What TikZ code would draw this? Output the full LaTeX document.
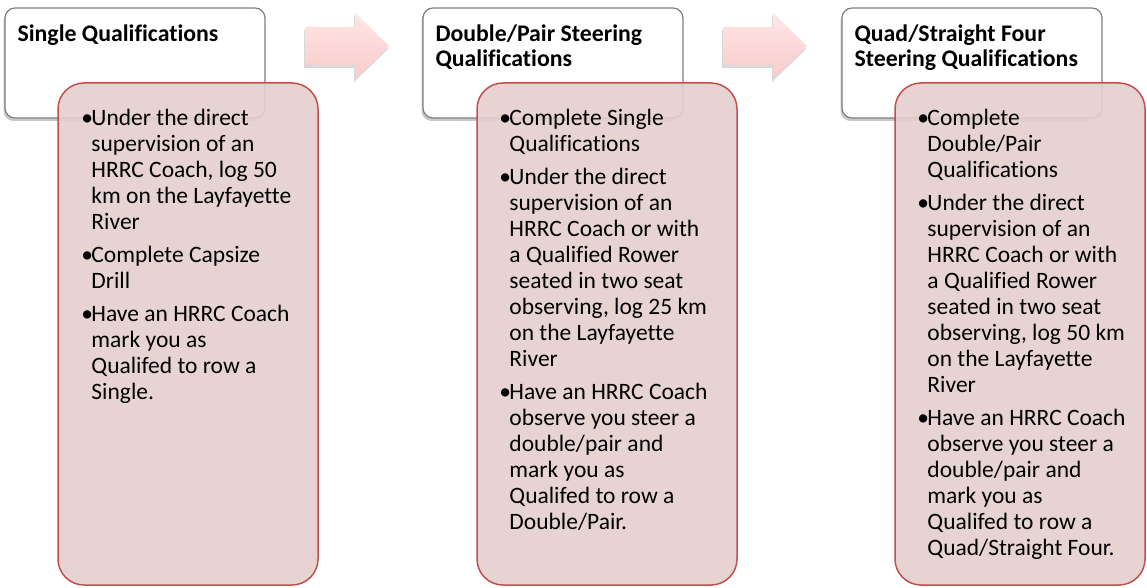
\documentclass[tikz,border=0pt]{standalone}
\usepackage{fontspec}
\setmainfont{Carlito}[Ligatures=NoCommon]
\usetikzlibrary{shadows}
\definecolor{hdrgray}{HTML}{7F7F7F}
\definecolor{redline}{HTML}{C0504D}
\definecolor{redfill}{HTML}{E6CFCF}
\definecolor{arrtop}{HTML}{FFE6E6}
\definecolor{arrbot}{HTML}{F9CBCB}
\newcommand{\bl}{\makebox[10pt][l]{•}}
\newcommand{\ind}{\hspace*{10pt}}
\begin{document}
\begin{tikzpicture}[x=1pt,y=-1pt,
  header/.style={draw=hdrgray, line width=1.2pt, fill=white, rounded corners=10pt,
    minimum width=260pt, minimum height=110pt, inner sep=0pt,
    drop shadow={shadow xshift=-1.5pt, shadow yshift=-3pt, opacity=0.3, fill=black!70}},
  redbox/.style={draw=redline, line width=1.5pt, fill=redfill, fill opacity=0.9,
    rounded corners=26pt, minimum height=502pt, inner sep=0pt},
  hdrtext/.style={font=\fontsize{23.8}{25}\selectfont\bfseries, align=left, inner sep=0pt, anchor=north west},
  bodytext/.style={font=\fontsize{23.5}{26}\selectfont, align=left, inner sep=0pt, anchor=north west},
  blockarrow/.style={top color=arrtop, bottom color=arrbot, draw=none,
    drop shadow={shadow xshift=-1pt, shadow yshift=-3pt, opacity=0.25, fill=black!60}}
]
\useasboundingbox (0,0) rectangle (1147,588);
\fill[white] (0,0) rectangle (1147,588);

% block arrows
\path[blockarrow] (305,27) -- (355,27) -- (355,13) -- (389,46) -- (355,79) -- (355,65) -- (305,65) -- cycle;
\path[blockarrow] (723,27) -- (773,27) -- (773,13) -- (807,46) -- (773,79) -- (773,65) -- (723,65) -- cycle;

% header boxes
\node[header] (h1) at (135,63) {};
\node[header] (h2) at (553,63) {};
\node[header] (h3) at (972,63) {};

\node[hdrtext] (ht1) at ([xshift=13pt,yshift=-17.5pt]h1.north west) {Single Qualifications};
\node[hdrtext] (ht2) at ([xshift=13pt,yshift=-17.5pt]h2.north west) {Double/Pair Steering\\Qualifications};
\node[hdrtext] (ht3) at ([xshift=13pt,yshift=-17.5pt]h3.north west) {Quad/Straight Four\\Steering Qualifications};

% red boxes
\node[redbox, minimum width=260pt] (r1) at (188,334) {};
\node[redbox, minimum width=260pt] (r2) at (607,334) {};
\node[redbox, minimum width=250pt] (r3) at (1020,334) {};

\node[bodytext] (t1) at ([xshift=24pt,yshift=-26.4pt]r1.north west) {%
\bl Under the direct\\
\ind supervision of an\\
\ind HRRC Coach, log 50\\
\ind km on the Layfayette\\
\ind River\\[7pt]
\bl Complete Capsize\\
\ind Drill\\[7pt]
\bl Have an HRRC Coach\\
\ind mark you as\\
\ind Qualifed to row a\\
\ind Single.};

\node[bodytext] (t2) at ([xshift=23pt,yshift=-26.4pt]r2.north west) {%
\bl Complete Single\\
\ind Qualifications\\[7pt]
\bl Under the direct\\
\ind supervision of an\\
\ind HRRC Coach or with\\
\ind a Qualified Rower\\
\ind seated in two seat\\
\ind observing, log 25 km\\
\ind on the Layfayette\\
\ind River\\[7pt]
\bl Have an HRRC Coach\\
\ind observe you steer a\\
\ind double/pair and\\
\ind mark you as\\
\ind Qualifed to row a\\
\ind Double/Pair.};

\node[bodytext] (t3) at ([xshift=23pt,yshift=-26.4pt]r3.north west) {%
\bl Complete\\
\ind Double/Pair\\
\ind Qualifications\\[7pt]
\bl Under the direct\\
\ind supervision of an\\
\ind HRRC Coach or with\\
\ind a Qualified Rower\\
\ind seated in two seat\\
\ind observing, log 50 km\\
\ind on the Layfayette\\
\ind River\\[7pt]
\bl Have an HRRC Coach\\
\ind observe you steer a\\
\ind double/pair and\\
\ind mark you as\\
\ind Qualifed to row a\\
\ind Quad/Straight Four.};
\end{tikzpicture}
\end{document}
